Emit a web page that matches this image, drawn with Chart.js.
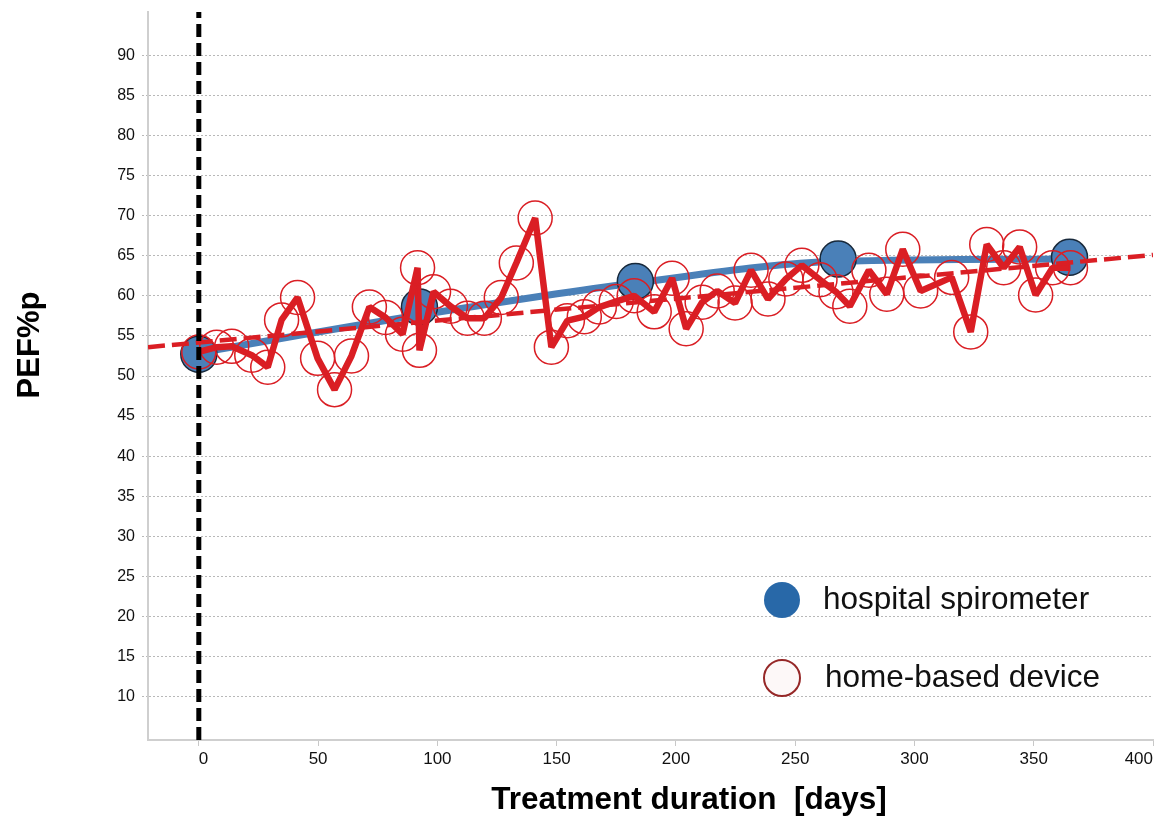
<!DOCTYPE html>
<html>
<head>
<meta charset="utf-8">
<title>PEF%p over treatment</title>
<script src="https://cdn.jsdelivr.net/npm/chart.js@4.4.1/dist/chart.umd.min.js"></script>
<style>
    html, body { margin: 0; padding: 0; background: #fff; }
    #wrap { width: 1154px; height: 817px; }
</style>
</head>
<body>
<div id="wrap"><canvas id="pefChart"></canvas></div>
<script>
// axis ticks
const xTicks = [0, 50, 100, 150, 200, 250, 300, 350, 400];
const yTicks = [10, 15, 20, 25, 30, 35, 40, 45, 50, 55, 60, 65, 70, 75, 80, 85, 90];
const xRange = [-21.3, 400];
const yRange = [4.6, 95.4];

// hospital spirometer visits
const hospitalDays = [0, 92.5, 183, 268, 365];
const hospitalPef = [52.7, 58.6, 61.8, 64.6, 64.8];
// smoothed curve through the visits
const hospitalCurve = [52.9, 57.6, 61.6, 64.3, 64.6];

// home-based device readings
const homeDays = [0, 7.5, 13.8, 22.2, 28.9, 34.7, 41.4, 49.8, 56.9, 64.0,
    71.5, 78.3, 85.4, 91.7, 92.5, 98.4, 105.5, 112.6, 119.7, 126.8,
    133.1, 141.0, 147.8, 154.5, 161.6, 167.9, 175.0, 182.5, 190.9, 198.4,
    204.3, 211.0, 217.3, 224.8, 231.5, 238.6, 246.1, 252.8, 260.4, 267.1,
    272.9, 280.9, 288.4, 295.1, 302.6, 315.6, 323.6, 330.3, 337.4, 344.1,
    350.8, 357.9, 365.4];
const homePef = [53.0, 53.6, 53.7, 52.6, 51.1, 57.0, 59.8, 52.2, 48.3, 52.5,
    58.6, 57.3, 55.2, 63.5, 53.2, 60.5, 58.7, 57.2, 57.2, 59.8,
    64.1, 69.7, 53.6, 56.9, 57.4, 58.6, 59.3, 60.0, 58.0, 62.2,
    55.9, 59.2, 60.6, 59.1, 63.2, 59.6, 62.1, 63.8, 62.0, 60.5,
    58.7, 63.2, 60.2, 65.8, 60.6, 62.3, 55.5, 66.4, 63.5, 66.1,
    60.1, 63.5, 63.5];

// linear trend of the home readings
const trendDays = [-21.3, 400];
const trendPef = [53.6, 65.1];

// treatment start marker
const startDay = 0;

const legendLabels = ['hospital spirometer', 'home-based device'];
const xTitle = 'Treatment duration  [days]';
const yTitle = 'PEF%p';

const RED = 'rgb(218, 30, 36)';
const BLUE = 'rgb(74, 128, 184)';

const toPoints = (xs, ys) => xs.map((x, i) => ({ x: x, y: ys[i] }));

// axis titles and the legend box in the lower right
const annotations = {
    id: 'annotations',
    afterDraw(chart) {
        const { ctx, chartArea } = chart;
        ctx.save();

        ctx.fillStyle = '#000';
        ctx.font = 'bold 31.5px "Liberation Sans", Arial, sans-serif';
        ctx.textAlign = 'center';
        ctx.textBaseline = 'middle';
        ctx.fillText(xTitle, 689, 800);

        ctx.translate(30, 345);
        ctx.rotate(-Math.PI / 2);
        ctx.font = 'bold 31px "Liberation Sans", Arial, sans-serif';
        ctx.fillText(yTitle, 0, 0);
        ctx.setTransform(1, 0, 0, 1, 0, 0);

        const lx = chartArea.left + 634;
        const ly = [chartArea.top + 588, chartArea.top + 666];

        ctx.beginPath();
        ctx.arc(lx, ly[0], 18, 0, Math.PI * 2);
        ctx.fillStyle = 'rgb(40, 104, 168)';
        ctx.fill();

        ctx.beginPath();
        ctx.arc(lx, ly[1], 18, 0, Math.PI * 2);
        ctx.fillStyle = 'rgb(253, 248, 248)';
        ctx.fill();
        ctx.lineWidth = 2;
        ctx.strokeStyle = 'rgb(150, 40, 40)';
        ctx.stroke();

        ctx.fillStyle = '#111';
        ctx.font = '31.5px "Liberation Sans", Arial, sans-serif';
        ctx.textAlign = 'left';
        ctx.fillText(legendLabels[0], lx + 41, ly[0]);
        ctx.fillText(legendLabels[1], lx + 43, ly[1]);
        ctx.restore();
    }
};

const ctx = document.getElementById('pefChart').getContext('2d');
const pefChart = new Chart(ctx, {
    type: 'scatter',
    data: {
        datasets: [
            {
                label: 'start',
                data: [{ x: startDay, y: yRange[0] }, { x: startDay, y: yRange[1] }],
                showLine: true,
                borderColor: '#000',
                borderWidth: 5,
                borderDash: [13, 6],
                pointRadius: 0,
                order: 0
            },
            {
                label: 'home trend',
                data: toPoints(trendDays, trendPef),
                showLine: true,
                borderColor: RED,
                borderWidth: 4.5,
                borderDash: [17, 7],
                pointRadius: 0,
                order: 1
            },
            {
                label: legendLabels[1],
                data: toPoints(homeDays, homePef),
                showLine: true,
                borderColor: RED,
                borderWidth: 6.5,
                borderJoinStyle: 'bevel',
                pointRadius: 17,
                pointBorderWidth: 1.5,
                pointBorderColor: RED,
                pointBackgroundColor: 'rgba(255,255,255,0)',
                order: 2
            },
            {
                label: legendLabels[0],
                data: toPoints(hospitalDays, hospitalPef),
                showLine: false,
                pointRadius: 18,
                pointBorderWidth: 1.5,
                pointBorderColor: '#18293b',
                pointBackgroundColor: BLUE,
                order: 3
            },
            {
                label: 'hospital curve',
                data: toPoints(hospitalDays, hospitalCurve),
                showLine: true,
                borderColor: BLUE,
                borderWidth: 7,
                cubicInterpolationMode: 'monotone',
                pointRadius: 0,
                order: 4
            }
        ]
    },
    options: {
        responsive: true,
        maintainAspectRatio: false,
        animation: false,
        layout: {
            autoPadding: false,
            padding: { top: 12, right: 1, left: 0, bottom: 0 }
        },
        plugins: {
            legend: { display: false },
            tooltip: { enabled: false }
        },
        scales: {
            x: {
                type: 'linear',
                min: xRange[0],
                max: xRange[1],
                afterBuildTicks: (scale) => { scale.ticks = xTicks.map(v => ({ value: v })); },
                afterFit: (scale) => {
                    scale.height = 77;
                    scale.paddingLeft = 0;
                    scale.paddingRight = 0;
                },
                grid: {
                    drawOnChartArea: false,
                    drawTicks: true,
                    tickLength: 6,
                    tickColor: '#c8c8c8'
                },
                border: { color: '#cfcfcf', width: 2 },
                ticks: {
                    align: 'inner',
                    padding: 3,
                    color: '#111',
                    font: { family: '"Liberation Sans", Arial, sans-serif', size: 17 }
                }
            },
            y: {
                type: 'linear',
                min: yRange[0],
                max: yRange[1],
                afterBuildTicks: (scale) => { scale.ticks = yTicks.map(v => ({ value: v })); },
                afterFit: (scale) => {
                    scale.width = 148;
                    scale.paddingTop = 0;
                    scale.paddingBottom = 0;
                },
                grid: {
                    color: '#b8b8b8',
                    lineWidth: 1,
                    tickBorderDash: [2, 2],
                    tickLength: 6,
                    tickColor: '#b8b8b8'
                },
                border: { color: '#cfcfcf', width: 2, dash: [2, 2] },
                ticks: {
                    padding: 7,
                    color: '#111',
                    font: { family: '"Liberation Sans", Arial, sans-serif', size: 16 }
                }
            }
        }
    },
    plugins: [annotations]
});
</script>
</body>
</html>
